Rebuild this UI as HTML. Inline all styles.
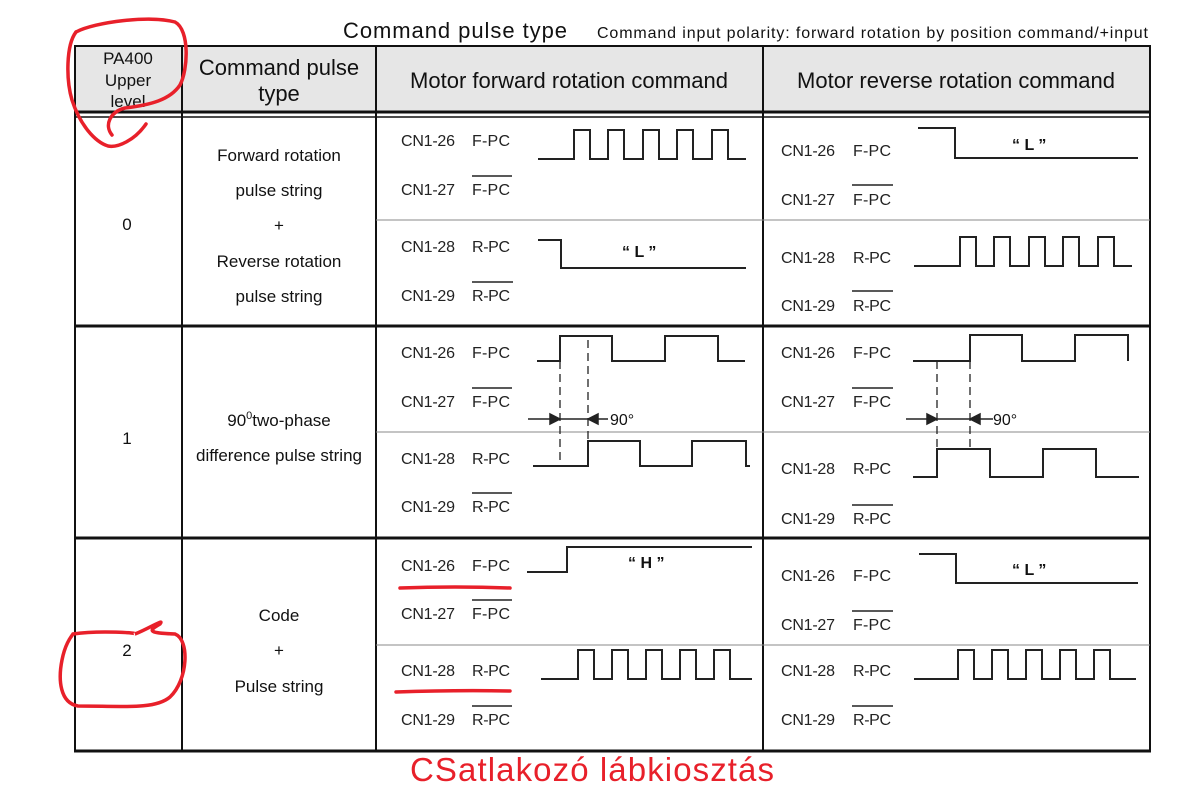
<!DOCTYPE html>
<html><head><meta charset="utf-8"><style>
html,body{margin:0;padding:0;background:#fff;width:1189px;height:785px;overflow:hidden}
svg{display:block}
.t{font-family:"Liberation Sans",Arial,sans-serif;fill:#111}
.c{font-family:"Liberation Sans Narrow","Liberation Sans",sans-serif;font-size:16px;fill:#222}
.w{fill:none;stroke:#222;stroke-width:2}
.ol{stroke:#222;stroke-width:1.5}
</style></head><body>
<svg width="1189" height="785" viewBox="0 0 1189 785" xmlns="http://www.w3.org/2000/svg">
<text class="t" x="343" y="38" font-size="22" textLength="224">Command pulse type</text>
<text class="t" x="597" y="38" font-size="16" textLength="551">Command input polarity: forward rotation by position command/+input</text>
<rect x="75" y="46" width="1074" height="66" fill="#e6e6e6"/>
<g stroke="#111" fill="none">
<rect x="75" y="46" width="1075" height="705" stroke-width="2"/>
<line x1="74" y1="112" x2="1151" y2="112" stroke-width="3"/>
<line x1="74" y1="117" x2="1151" y2="117" stroke-width="1.5"/>
<line x1="74" y1="326" x2="1151" y2="326" stroke-width="3"/>
<line x1="74" y1="538" x2="1151" y2="538" stroke-width="3"/>
<line x1="74" y1="751" x2="1151" y2="751" stroke-width="3"/>
<line x1="182" y1="46" x2="182" y2="751" stroke-width="2"/>
<line x1="376" y1="46" x2="376" y2="751" stroke-width="2"/>
<line x1="763" y1="46" x2="763" y2="751" stroke-width="2"/>
<line x1="376" y1="220" x2="1150" y2="220" stroke="#888" stroke-width="1"/>
<line x1="376" y1="432" x2="1150" y2="432" stroke="#888" stroke-width="1"/>
<line x1="376" y1="645" x2="1150" y2="645" stroke="#888" stroke-width="1"/>
</g>
<g class="t" text-anchor="middle">
<text x="128" y="64" font-size="17">PA400</text>
<text x="128" y="86" font-size="17">Upper</text>
<text x="128" y="107" font-size="17">level</text>
<text x="279" y="75" font-size="22">Command pulse</text>
<text x="279" y="101" font-size="22">type</text>
<text x="569" y="88" font-size="22">Motor forward rotation command</text>
<text x="956" y="88" font-size="22">Motor reverse rotation command</text>
<text x="127" y="230" font-size="17">0</text>
<text x="127" y="444" font-size="17">1</text>
<text x="127" y="656" font-size="17">2</text>
<text x="279" y="161" font-size="17">Forward rotation</text>
<text x="279" y="196" font-size="17">pulse string</text>
<text x="279" y="231" font-size="17">+</text>
<text x="279" y="267" font-size="17">Reverse rotation</text>
<text x="279" y="302" font-size="17">pulse string</text>
<text x="279" y="426" font-size="17">90<tspan font-size="11" dy="-7">0</tspan><tspan dy="7">two-phase</tspan></text>
<text x="279" y="461" font-size="17">difference pulse string</text>
<text x="279" y="621" font-size="17">Code</text>
<text x="279" y="656" font-size="17">+</text>
<text x="279" y="692" font-size="17">Pulse string</text>
</g>
<g class="c">
<text x="401" y="146" textLength="54">CN1-26</text><text x="472" y="146" textLength="38">F-PC</text>
<text x="401" y="195" textLength="54">CN1-27</text><text x="472" y="195" textLength="38">F-PC</text>
<text x="401" y="252" textLength="54">CN1-28</text><text x="472" y="252" textLength="38">R-PC</text>
<text x="401" y="301" textLength="54">CN1-29</text><text x="472" y="301" textLength="38">R-PC</text>
<text x="781" y="156" textLength="54">CN1-26</text><text x="853" y="156" textLength="38">F-PC</text>
<text x="781" y="205" textLength="54">CN1-27</text><text x="853" y="205" textLength="38">F-PC</text>
<text x="781" y="263" textLength="54">CN1-28</text><text x="853" y="263" textLength="38">R-PC</text>
<text x="781" y="311" textLength="54">CN1-29</text><text x="853" y="311" textLength="38">R-PC</text>
<text x="401" y="358" textLength="54">CN1-26</text><text x="472" y="358" textLength="38">F-PC</text>
<text x="401" y="407" textLength="54">CN1-27</text><text x="472" y="407" textLength="38">F-PC</text>
<text x="401" y="464" textLength="54">CN1-28</text><text x="472" y="464" textLength="38">R-PC</text>
<text x="401" y="512" textLength="54">CN1-29</text><text x="472" y="512" textLength="38">R-PC</text>
<text x="781" y="358" textLength="54">CN1-26</text><text x="853" y="358" textLength="38">F-PC</text>
<text x="781" y="407" textLength="54">CN1-27</text><text x="853" y="407" textLength="38">F-PC</text>
<text x="781" y="474" textLength="54">CN1-28</text><text x="853" y="474" textLength="38">R-PC</text>
<text x="781" y="524" textLength="54">CN1-29</text><text x="853" y="524" textLength="38">R-PC</text>
<text x="401" y="571" textLength="54">CN1-26</text><text x="472" y="571" textLength="38">F-PC</text>
<text x="401" y="619" textLength="54">CN1-27</text><text x="472" y="619" textLength="38">F-PC</text>
<text x="401" y="676" textLength="54">CN1-28</text><text x="472" y="676" textLength="38">R-PC</text>
<text x="401" y="725" textLength="54">CN1-29</text><text x="472" y="725" textLength="38">R-PC</text>
<text x="781" y="581" textLength="54">CN1-26</text><text x="853" y="581" textLength="38">F-PC</text>
<text x="781" y="630" textLength="54">CN1-27</text><text x="853" y="630" textLength="38">F-PC</text>
<text x="781" y="676" textLength="54">CN1-28</text><text x="853" y="676" textLength="38">R-PC</text>
<text x="781" y="725" textLength="54">CN1-29</text><text x="853" y="725" textLength="38">R-PC</text>
</g>
<g class="ol">
<line x1="472" y1="176" x2="512" y2="176"/><line x1="472" y1="282" x2="513" y2="282"/>
<line x1="852" y1="185" x2="893" y2="185"/><line x1="852" y1="291" x2="893" y2="291"/>
<line x1="472" y1="388" x2="512" y2="388"/><line x1="472" y1="493" x2="512" y2="493"/>
<line x1="852" y1="388" x2="893" y2="388"/><line x1="852" y1="505" x2="893" y2="505"/>
<line x1="472" y1="600" x2="512" y2="600"/><line x1="472" y1="706" x2="512" y2="706"/>
<line x1="852" y1="611" x2="893" y2="611"/><line x1="852" y1="706" x2="893" y2="706"/>
</g>
<g class="w">
<path d="M538 159H574V130H590V159H608V130H624V159H643V130H659V159H677V130H693V159H712V130H728V159H746"/>
<path d="M538 240H561V268H746"/>
<path d="M918 128H955V158H1138"/>
<path d="M914 266H960V237H976V266H994V237H1010V266H1029V237H1045V266H1063V237H1079V266H1098V237H1114V266H1132"/>
<path d="M537 361H560V336H612V361H665V336H718V361H745"/>
<path d="M533 466H588V441H640V466H692V441H746V466H750"/>
<path d="M913 361H970V335H1022V361H1075V335H1128V361"/>
<path d="M913 477H937V449H990V477H1043V449H1096V477H1139"/>
<path d="M527 572H567V547H752"/>
<path d="M541 679H578V650H594V679H612V650H628V679H646V650H662V679H680V650H696V679H714V650H730V679H752"/>
<path d="M919 554H956V583H1138"/>
<path d="M914 679H958V650H974V679H992V650H1008V679H1026V650H1042V679H1060V650H1076V679H1094V650H1110V679H1136"/>
</g>
<g stroke="#222" stroke-width="1.3" stroke-dasharray="8,5">
<line x1="560" y1="361" x2="560" y2="466"/>
<line x1="588" y1="340" x2="588" y2="441"/>
<line x1="937" y1="361" x2="937" y2="449"/>
<line x1="970" y1="361" x2="970" y2="449"/>
</g>
<g stroke="#222" stroke-width="1.5" fill="#222">
<line x1="528" y1="419" x2="608" y2="419"/>
<path d="M560 419l-10-5v10z"/><path d="M588 419l10-5v10z"/>
<line x1="906" y1="419" x2="993" y2="419"/>
<path d="M937 419l-10-5v10z"/><path d="M970 419l10-5v10z"/>
</g>
<text class="t" x="610" y="425" font-size="16">90°</text>
<text class="t" x="993" y="425" font-size="16">90°</text>
<g class="t" font-size="16" font-weight="bold">
<text x="622" y="257">“ L ”</text>
<text x="1012" y="150">“ L ”</text>
<text x="628" y="568">“ H ”</text>
<text x="1012" y="575">“ L ”</text>
</g>
<g fill="none" stroke="#e8202a" stroke-width="3.5" stroke-linecap="round">
<path d="M76 32C95 22 150 15 175 22C190 30 188 70 180 85C170 100 150 105 125 108C110 112 104 125 112 135"/>
<path d="M76 32C66 45 66 80 72 100C80 125 95 142 108 146C118 148 135 140 146 124"/>
<path d="M400 588Q455 586 510 588"/>
<path d="M396 692Q455 690 510 691"/>
<path d="M73 634C100 630 140 633 135 634C150 628 165 618 160 624C150 630 145 633 175 634C190 640 188 680 170 697C155 710 120 706 78 706C60 703 58 680 62 660C65 645 70 638 73 634"/>
</g>
<text x="410" y="781" font-size="33" fill="#e8202a" font-family="'Liberation Sans',sans-serif" textLength="364">CSatlakozó lábkiosztás</text>
</svg>
</body></html>
